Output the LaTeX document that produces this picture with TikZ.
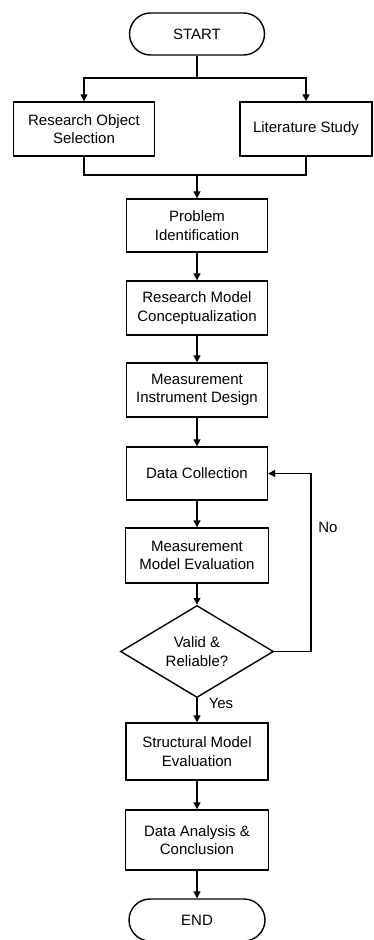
\documentclass[tikz,border=0pt]{standalone}
\usepackage{fontspec}
\setmainfont{Liberation Sans}
\usetikzlibrary{shapes.geometric,shapes.misc,arrows.meta}
\begin{document}
\begin{tikzpicture}[x=1pt,y=-1pt,
  line width=1.4pt,
  every node/.style={font=\fontsize{15}{18.5}\selectfont, align=center, inner sep=0pt},
  procbox/.style={draw, rectangle, minimum width=141pt, minimum height=54pt},
  termbox/.style={draw, rounded rectangle, minimum width=135pt, minimum height=42pt},
  decbox/.style={draw, diamond, minimum width=153pt, minimum height=77pt},
  arr/.style={-{Triangle[length=7pt,width=7pt]}},
  lbl/.style={font=\fontsize{15}{18}\selectfont}]
\useasboundingbox (0,0) rectangle (373,940);
\fill[white] (0,0) rectangle (373,940);

\node[termbox] (start) at (197,34) {START};
\node[procbox] (ros) at (84,129) {Research Object\\Selection};
\node[procbox, minimum width=132pt] (ls) at (306,129) {Literature Study};
\node[procbox, minimum height=53pt] (pi) at (197,225.5) {Problem\\Identification};
\node[procbox] (rmc) at (197,308) {Research Model\\Conceptualization};
\node[procbox] (mid) at (197,390) {Measurement\\Instrument Design};
\node[procbox, minimum height=53pt] (dc) at (197,473.5) {Data Collection};
\node[procbox, minimum width=143pt, minimum height=55pt] (mme) at (197,555.5) {Measurement\\Model Evaluation};
\node[decbox] (vr) at (197,651.5) {Valid \&\\Reliable?};
\node[procbox, minimum width=142pt, minimum height=57pt] (sme) at (197,751.5) {Structural Model\\Evaluation};
\node[procbox, minimum width=143pt, minimum height=60pt] (dac) at (197,840) {Data Analysis \&\\Conclusion};
\node[termbox, minimum width=136pt] (end) at (197,920) {END};

\coordinate (split) at (197,78);
\coordinate (merge) at (197,175);
\coordinate (loop) at (311,651.5);

\draw (start.south) -- (split);
\draw[arr] (split) -| (ros.north);
\draw[arr] (split) -| (ls.north);
\draw (ros.south) |- (merge);
\draw (ls.south) |- (merge);
\draw[arr] (merge) -- (pi.north);
\draw[arr] (pi) -- (rmc);
\draw[arr] (rmc) -- (mid);
\draw[arr] (mid) -- (dc);
\draw[arr] (dc) -- (mme);
\draw[arr] (mme) -- (vr);
\draw[arr] (vr.east) -- (loop) |- (dc.east);
\node[lbl] (no) at (328,527) {No};
\draw[arr] (vr.south) -- (sme.north);
\node[lbl] (yes) at (221,703) {Yes};
\draw[arr] (sme) -- (dac);
\draw[arr] (dac) -- (end);
\end{tikzpicture}
\end{document}
